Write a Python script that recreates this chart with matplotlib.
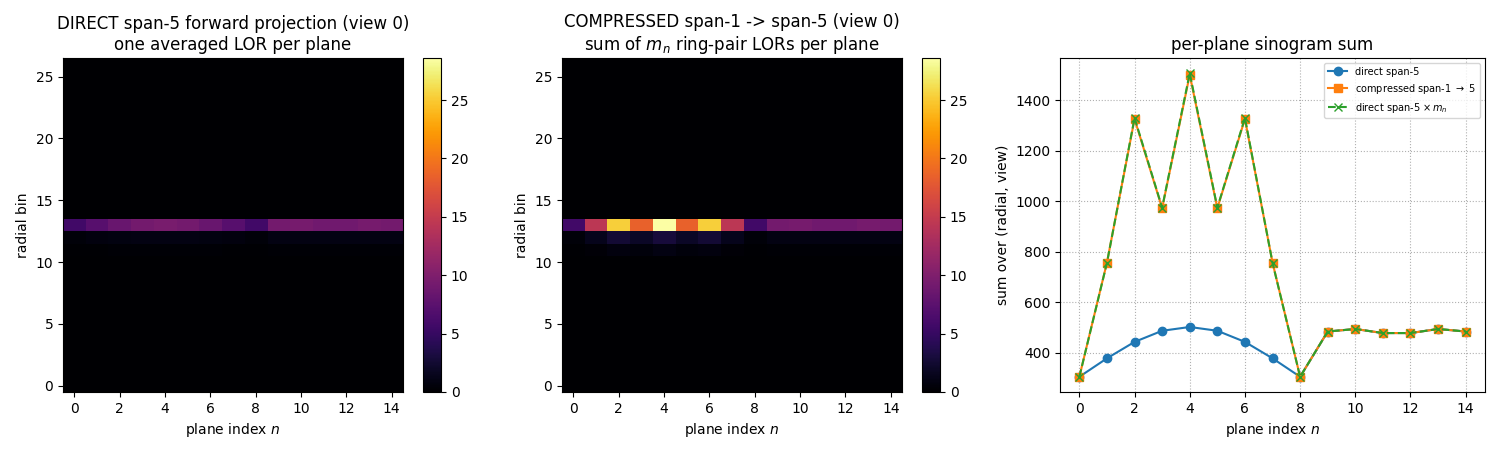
import numpy as np
import matplotlib.pyplot as plt

planes = np.arange(15)
n_radial = 27
m_n = [1, 2, 3, 2, 3, 2, 3, 2, 1, 1, 1, 1, 1, 1, 1]

# view-0 sinogram values at the few non-zero radial bins
direct_r13 = [5.8, 7.2, 8.4, 9.2, 9.5, 9.2, 8.4, 7.2, 5.8, 9.2, 9.4, 9.0, 9.0, 9.4, 9.2]
direct_r12 = [0.55, 0.7, 0.85, 0.95, 1.0, 0.95, 0.85, 0.7, 0.55, 0.9, 0.95, 0.9, 0.9, 0.95, 0.9]
direct_r11 = [0.15, 0.2, 0.25, 0.28, 0.3, 0.28, 0.25, 0.2, 0.15, 0.25, 0.27, 0.25, 0.25, 0.27, 0.25]
comp_r13 = [5.8, 14.4, 25.3, 18.5, 28.6, 18.5, 25.3, 14.4, 5.8, 9.2, 9.4, 9.0, 9.0, 9.4, 9.2]
comp_r12 = [0.55, 1.4, 2.6, 1.9, 3.0, 1.9, 2.6, 1.4, 0.55, 0.9, 0.95, 0.9, 0.9, 0.95, 0.9]
comp_r11 = [0.15, 0.4, 0.75, 0.56, 0.9, 0.56, 0.75, 0.4, 0.15, 0.25, 0.27, 0.25, 0.25, 0.27, 0.25]

# per-plane sums over (radial, view)
sum_direct = [305, 378, 443, 487, 502, 487, 443, 378, 305, 484, 494, 478, 478, 494, 484]
sum_comp = [305, 757, 1325, 972, 1500, 972, 1325, 757, 305, 484, 494, 478, 478, 494, 484]
sum_scaled = [305, 756, 1329, 974, 1506, 974, 1329, 756, 305, 484, 494, 478, 478, 494, 484]

def make_img(r11, r12, r13):
    img = np.zeros((n_radial, len(planes)))
    img[11] = r11
    img[12] = r12
    img[13] = r13
    return img

img_direct = make_img(direct_r11, direct_r12, direct_r13)
img_comp = make_img(comp_r11, comp_r12, comp_r13)
vmax = max(img_direct.max(), img_comp.max())

fig = plt.figure(figsize=(15, 4.5), dpi=100)
ax1 = fig.add_axes([0.042, 0.129, 0.2267, 0.742])
cax1 = fig.add_axes([0.282, 0.129, 0.012, 0.742])
ax2 = fig.add_axes([0.3747, 0.129, 0.2267, 0.742])
cax2 = fig.add_axes([0.6147, 0.129, 0.012, 0.742])
ax3 = fig.add_axes([0.7067, 0.129, 0.2833, 0.742])

im1 = ax1.imshow(img_direct, origin='lower', aspect='auto', cmap='inferno', vmin=0, vmax=vmax)
fig.colorbar(im1, cax=cax1)
ax1.set_title('DIRECT span-5 forward projection (view 0)\none averaged LOR per plane')
ax1.set_xlabel('plane index $n$')
ax1.set_ylabel('radial bin')
ax1.set_xticks(np.arange(0, 15, 2))

im2 = ax2.imshow(img_comp, origin='lower', aspect='auto', cmap='inferno', vmin=0, vmax=vmax)
fig.colorbar(im2, cax=cax2)
ax2.set_title('COMPRESSED span-1 -> span-5 (view 0)\nsum of $m_n$ ring-pair LORs per plane')
ax2.set_xlabel('plane index $n$')
ax2.set_ylabel('radial bin')
ax2.set_xticks(np.arange(0, 15, 2))

ax3.plot(planes, sum_direct, 'o-', label='direct span-5')
ax3.plot(planes, sum_comp, 's-', label='compressed span-1 $\\to$ 5')
ax3.plot(planes, sum_scaled, 'x--', label='direct span-5 $\\times\\, m_n$')
ax3.set_title('per-plane sinogram sum')
ax3.set_xlabel('plane index $n$')
ax3.set_ylabel('sum over (radial, view)')
ax3.set_xticks(np.arange(0, 15, 2))
ax3.grid(True, linestyle=':')
ax3.legend(fontsize=7, loc='upper right')

fig.savefig('out.png')
